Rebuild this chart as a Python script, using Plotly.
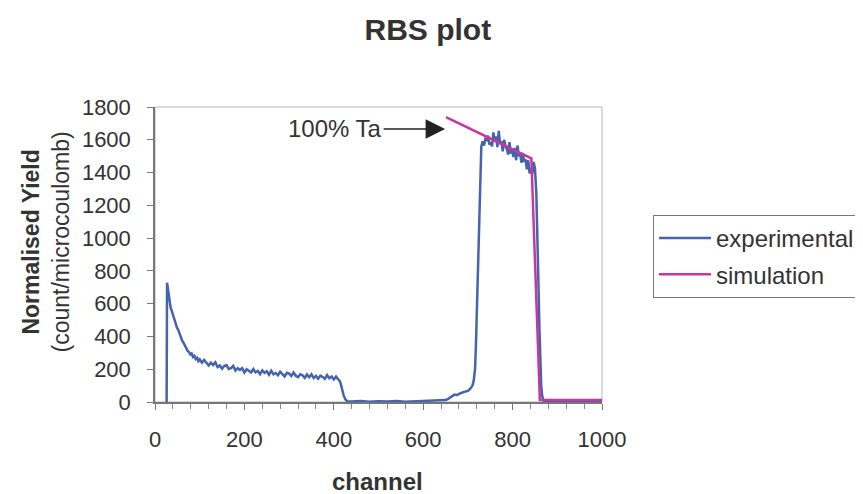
import plotly.graph_objects as go

# ---------------- data ----------------
exp_channel = [26, 27, 29, 31, 33, 35, 37, 40, 43, 46, 49, 52, 55, 58, 61, 64, 67, 70, 73, 76,
               79, 82, 85, 88, 91, 94, 97, 100, 105, 110, 115, 120, 125, 130, 135, 140, 145, 150,
               155, 160, 165, 170, 175, 180, 185, 190, 195, 200, 205, 210, 215, 220, 225, 230,
               235, 240, 245, 250, 255, 260, 265, 270, 275, 280, 285, 290, 295, 300, 305, 310,
               315, 320, 325, 330, 335, 340, 345, 350, 355, 360, 365, 370, 375, 380, 385, 390,
               395, 400, 405, 410, 414, 418, 422, 426, 430, 440, 460, 480, 500, 520, 540, 560,
               580, 600, 620, 640, 650, 655, 660, 665, 670, 675, 680, 685, 690, 695, 700, 705,
               710, 713, 716, 718, 720, 722, 724, 726, 728, 730, 733, 736, 739, 742, 745, 748,
               751, 754, 757, 760, 763, 766, 769, 772, 775, 778, 781, 784, 787, 790, 793, 796,
               799, 802, 805, 808, 811, 814, 817, 820, 823, 826, 829, 832, 835, 838, 841, 844,
               847, 850, 853, 856, 858, 860, 862, 864, 866, 868, 870, 900, 950, 1000]
exp_yield = [0, 728, 690, 640, 600, 575, 560, 530, 505, 480, 455, 440, 415, 395, 372, 360, 342, 335, 312, 305,
             290, 296, 275, 282, 262, 270, 250, 260, 240, 256, 240, 223, 240, 225, 242, 213, 223, 203,
             220, 224, 202, 207, 220, 192, 206, 196, 206, 180, 200, 192, 180, 201, 181, 189,
             170, 193, 178, 187, 166, 191, 169, 177, 163, 184, 170, 156, 178, 173, 159, 180,
             160, 152, 169, 163, 147, 168, 151, 169, 146, 159, 142, 161, 153, 141, 164, 145,
             155, 137, 155, 141, 125, 85, 40, 15, 5, 3, 6, 2, 5, 3, 6, 2,
             4, 3, 6, 8, 12, 18, 28, 38, 45, 42, 50, 55, 60, 62, 68, 80,
             100, 130, 200, 350, 550, 800, 1050, 1300, 1480, 1560, 1590, 1565, 1605, 1600, 1625, 1570,
             1585, 1560, 1645, 1590, 1620, 1555, 1655, 1575, 1590, 1530, 1600, 1560, 1545, 1510, 1585, 1515,
             1540, 1495, 1550, 1475, 1565, 1500, 1510, 1460, 1520, 1465, 1480, 1420, 1475, 1395, 1430, 1390,
             1465, 1425, 1280, 1000, 700, 450, 250, 100, 40, 10, 0, 0, 0, 0]

sim_channel = [651, 842, 861, 1000]
sim_yield = [1738, 1487, 12, 12]

y_ticks = [0, 200, 400, 600, 800, 1000, 1200, 1400, 1600, 1800]
x_ticks = [0, 200, 400, 600, 800, 1000]

TXT = "#333333"
FONT = "Liberation Sans, Arial, sans-serif"

fig = go.Figure()
fig.add_trace(go.Scatter(x=exp_channel, y=exp_yield, mode="lines", name="experimental",
                         legendgroup="a",
                         line=dict(color="#4663ad", width=2.5)))
fig.add_trace(go.Scatter(x=sim_channel, y=sim_yield, mode="lines", name="simulation",
                         legendgroup="b",
                         line=dict(color="#c637a0", width=2.5)))

# page body has an 8px offset, so the figure is 8px smaller than the window
fig.update_layout(
    width=855, height=486,
    margin=dict(l=147, r=261, t=99, b=92, autoexpand=False),
    paper_bgcolor="white", plot_bgcolor="white",
    font=dict(family=FONT, color=TXT, size=22),
    title=dict(text="<b>RBS plot</b>", x=0.491, xref="container", xanchor="center",
               y=0.955, yref="container", yanchor="middle",
               font=dict(size=30, color=TXT, family=FONT)),
    xaxis=dict(range=[0, 1000], tickvals=x_ticks, ticktext=[str(v) for v in x_ticks],
               showgrid=False, zeroline=False, showline=True, linecolor="#777777", linewidth=1.5,
               ticks="outside", ticklen=6, tickcolor="#777777", tickwidth=1,
               minor=dict(dtick=40, tick0=0, ticks="outside", ticklen=5, tickcolor="#888888", showgrid=False),
               ticklabelstandoff=11, tickfont=dict(size=22, color=TXT)),
    yaxis=dict(range=[0, 1800], tickvals=y_ticks, ticktext=[str(v) for v in y_ticks],
               showgrid=False, zeroline=False, showline=True, linecolor="#777777", linewidth=1.5,
               ticks="outside", ticklen=6, tickcolor="#777777", tickwidth=1,
               ticklabelstandoff=12, tickfont=dict(size=22, color=TXT)),
    legend=dict(x=1.114, xanchor="left", y=0.634, yanchor="top",
                bordercolor="#777777", borderwidth=1, bgcolor="white", itemwidth=52,
                font=dict(size=24, color=TXT, family=FONT), tracegroupgap=2),
    showlegend=True,
)

# light frame on the top and right sides
fig.add_shape(type="rect", xref="paper", yref="paper", x0=0, y0=0, x1=1, y1=1,
              line=dict(color="#b5b5b5", width=1), layer="below")

fig.add_annotation(x=649, y=1666, xref="x", yref="y", text="100% Ta",
                   showarrow=True, arrowhead=2, arrowsize=2.6, arrowwidth=1.5, arrowcolor="#222222",
                   ax=-110, ay=0, font=dict(size=24, color=TXT, family=FONT))

fig.add_annotation(x=-0.244, y=0.544, xref="paper", yref="paper", showarrow=False,
                   text="<b>Normalised Yield</b><br>(count/microcoulomb)", textangle=-90,
                   xanchor="center", yanchor="middle",
                   font=dict(size=23, color=TXT, family=FONT))
fig.add_annotation(x=0.497, y=-0.271, xref="paper", yref="paper", showarrow=False,
                   text="<b>channel</b>", xanchor="center", yanchor="middle",
                   font=dict(size=24, color=TXT, family=FONT))

fig.write_html("out.html")
